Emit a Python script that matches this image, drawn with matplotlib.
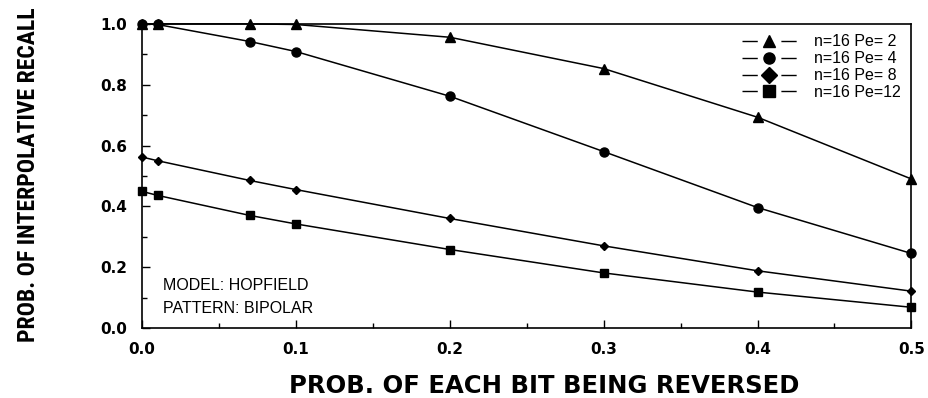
import matplotlib.pyplot as plt
from matplotlib import font_manager
from matplotlib.lines import Line2D
from matplotlib.ticker import MultipleLocator, FormatStrFormatter

# probability of each bit being reversed
bit_flip_prob = [0.0, 0.01, 0.07, 0.1, 0.2, 0.3, 0.4, 0.5]

# interpolative recall, n=16, for each number of stored patterns
recall_pe2 = [1.0, 1.0, 1.0, 0.998, 0.956, 0.853, 0.693, 0.49]
recall_pe4 = [1.0, 0.998, 0.942, 0.909, 0.762, 0.58, 0.396, 0.245]
recall_pe8 = [0.562, 0.55, 0.485, 0.455, 0.36, 0.27, 0.188, 0.121]
recall_pe12 = [0.449, 0.436, 0.37, 0.342, 0.258, 0.181, 0.118, 0.068]

series_labels = ["n=16 Pe= 2", "n=16 Pe= 4", "n=16 Pe= 8", "n=16 Pe=12"]
x_ticks = [0.0, 0.1, 0.2, 0.3, 0.4, 0.5]
y_ticks = [0.0, 0.2, 0.4, 0.6, 0.8, 1.0]

TEXT_FONT = ["Liberation Sans", "DejaVu Sans"]


def narrow_font():
    # look for a condensed bold face, else use plain Liberation Sans smaller
    for fam in ["Roboto Condensed", "Liberation Sans Narrow", "DejaVu Sans"]:
        prop = font_manager.FontProperties(family=fam, weight="bold",
                                           stretch="condensed")
        try:
            path = font_manager.findfont(prop, fallback_to_default=False)
        except ValueError:
            continue
        if "ondensed" in path or "Narrow" in path:
            return {"family": fam, "stretch": "condensed", "fontsize": 17}
    return {"family": "Liberation Sans", "fontsize": 13.8}


fig, ax = plt.subplots(figsize=(9.29, 3.98), dpi=100)
fig.subplots_adjust(left=0.153, right=0.981, bottom=0.176, top=0.940)

markers = ["^", "o", "D", "s"]
sizes = [7, 6.5, 4.5, 6]
for values, marker, size in zip(
    [recall_pe2, recall_pe4, recall_pe8, recall_pe12], markers, sizes
):
    ax.plot(bit_flip_prob, values, color="black", lw=1.1,
            marker=marker, markersize=size, clip_on=False)

ax.set_xlim(0, 0.5)
ax.set_ylim(0, 1.0)
ax.set_xticks(x_ticks)
ax.set_yticks(y_ticks)
ax.xaxis.set_minor_locator(MultipleLocator(0.05))
ax.yaxis.set_minor_locator(MultipleLocator(0.1))
ax.xaxis.set_major_formatter(FormatStrFormatter("%.1f"))
ax.yaxis.set_major_formatter(FormatStrFormatter("%.1f"))
ax.tick_params(which="both", direction="in", top=False, right=False, width=1)
ax.tick_params(which="major", length=6)
ax.tick_params(which="minor", length=3.5)
ax.tick_params(axis="y", pad=11)
ax.tick_params(axis="x", pad=10)
for lab in ax.get_xticklabels() + ax.get_yticklabels():
    lab.set_fontfamily("DejaVu Sans")
    lab.set_fontweight("bold")
    lab.set_fontsize(11)
for spine in ax.spines.values():
    spine.set_linewidth(1.2)

handles = [
    Line2D([], [], color="black", lw=1.0, linestyle=(0, (11, 17)),
           marker=m, markersize=8)
    for m in markers
]
ax.legend(handles, series_labels, loc="upper right", bbox_to_anchor=(1.0, 1.0),
          frameon=False, handlelength=3.4, handletextpad=1.1,
          labelspacing=0.12, borderpad=0.3, borderaxespad=0.35,
          prop={"family": TEXT_FONT, "size": 11.5})

ax.text(0.0137, 0.125, "MODEL: HOPFIELD", fontsize=11.5, family=TEXT_FONT)
ax.text(0.0137, 0.049, "PATTERN: BIPOLAR", fontsize=11.5, family=TEXT_FONT)

fig.text(0.586, 0.030, "PROB. OF EACH BIT BEING REVERSED", ha="center",
         va="center", fontsize=17.5, fontweight="bold", family="DejaVu Sans")
fig.text(0.031, 0.56, "PROB. OF INTERPOLATIVE RECALL", rotation=90,
         ha="center", va="center", fontweight="bold", **narrow_font())

fig.savefig("out.png", dpi=100)
